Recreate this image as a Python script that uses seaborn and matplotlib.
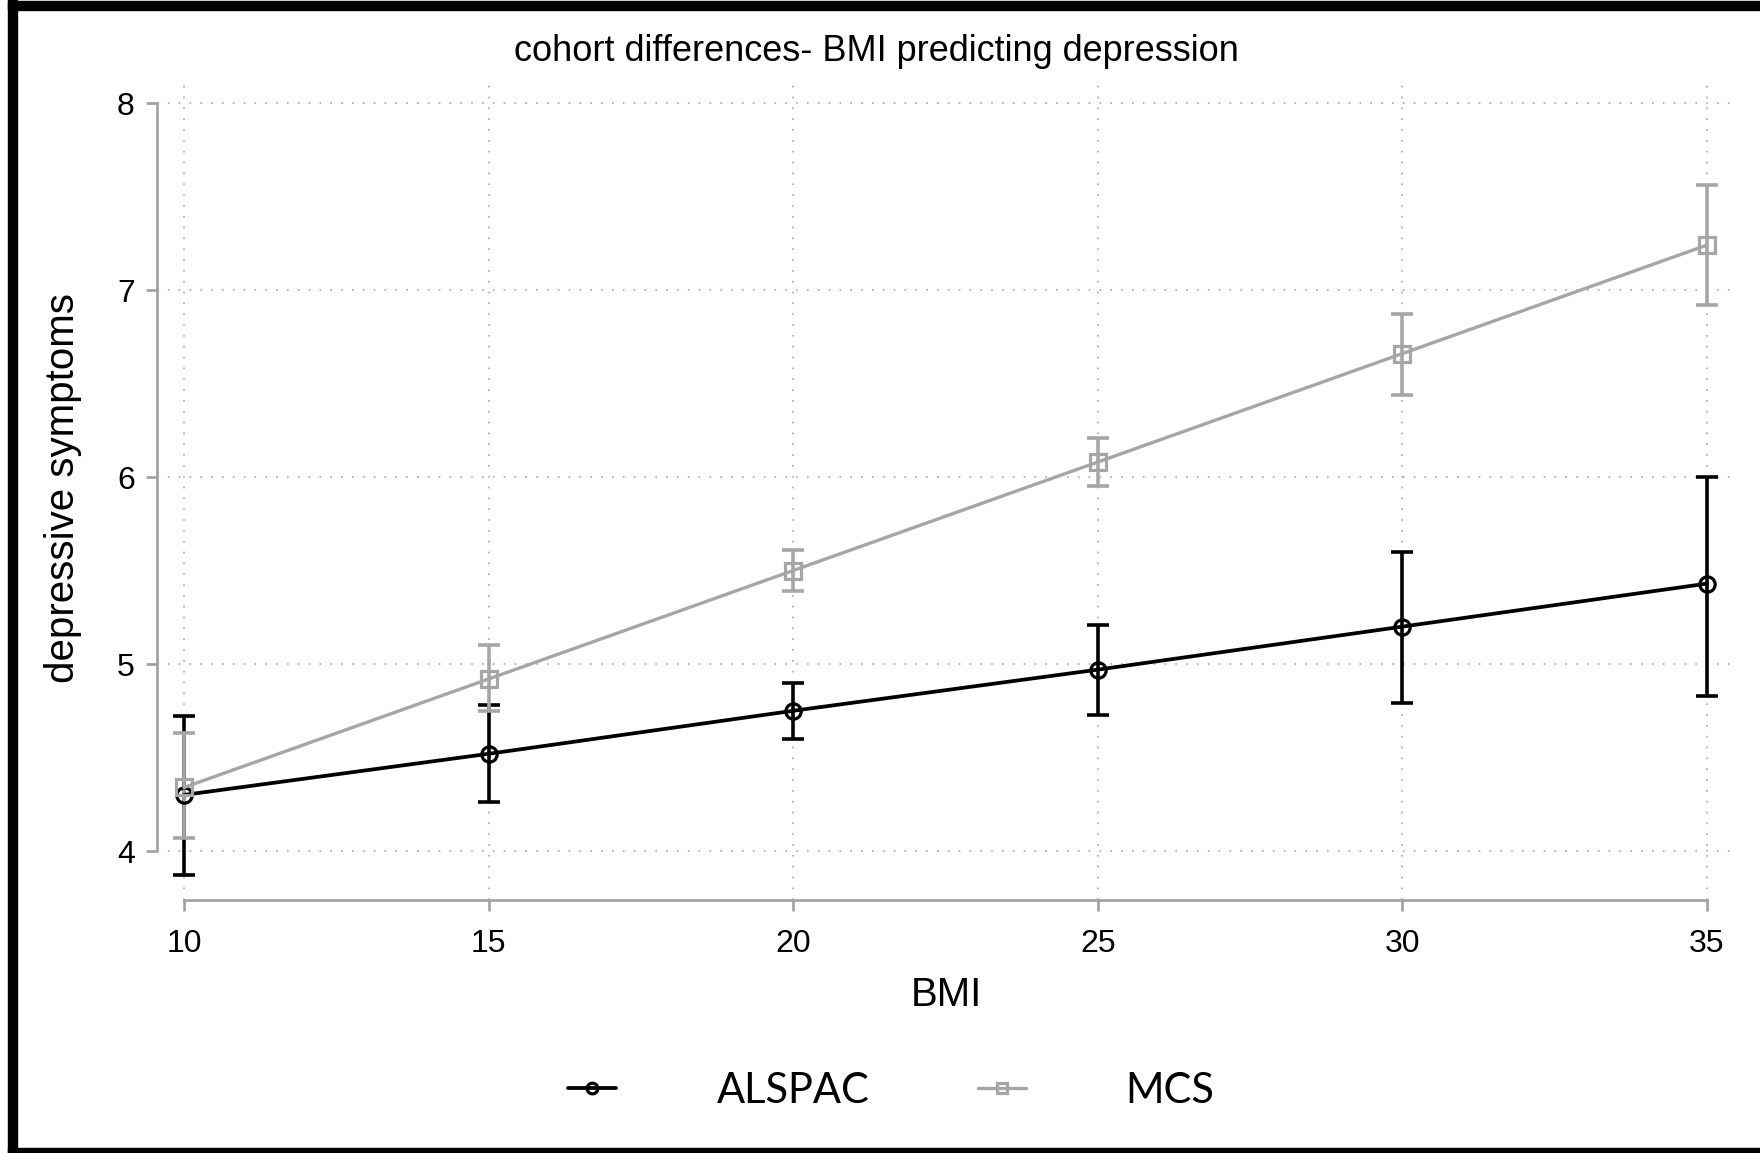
"""
plot.py - cohort differences: BMI predicting depressive symptoms (ALSPAC vs MCS).
"""

import matplotlib
matplotlib.use("Agg")
import matplotlib.pyplot as plt
import pandas as pd
import seaborn as sns

# ---------------------------------------------------------------- data
BMI = [10, 15, 20, 25, 30, 35]

ALSPAC_MEAN = [4.30, 4.52, 4.75, 4.97, 5.20, 5.43]
ALSPAC_LOW = [3.87, 4.26, 4.60, 4.73, 4.79, 4.83]
ALSPAC_HIGH = [4.72, 4.78, 4.90, 5.21, 5.60, 6.00]

MCS_MEAN = [4.34, 4.92, 5.50, 6.08, 6.66, 7.24]
MCS_LOW = [4.07, 4.75, 5.39, 5.95, 6.44, 6.92]
MCS_HIGH = [4.63, 5.10, 5.61, 6.21, 6.87, 7.56]

Y_TICKS = [4, 5, 6, 7, 8]

COHORTS = ["ALSPAC", "MCS"]
COLORS = {"ALSPAC": "#000000", "MCS": "#a6a6a6"}
MARKERS = {"ALSPAC": "o", "MCS": "s"}

sns.set_theme(style="white")
plt.rcParams["font.family"] = ["Liberation Sans", "DejaVu Sans"]
plt.rcParams["text.color"] = "black"

SPINE = "#a0a0a0"
GRID = "#a8a8a8"


def main():
    df = pd.concat([
        pd.DataFrame({"bmi": BMI, "mean": ALSPAC_MEAN, "lo": ALSPAC_LOW,
                      "hi": ALSPAC_HIGH, "cohort": "ALSPAC"}),
        pd.DataFrame({"bmi": BMI, "mean": MCS_MEAN, "lo": MCS_LOW,
                      "hi": MCS_HIGH, "cohort": "MCS"}),
    ], ignore_index=True)

    fig = plt.figure(figsize=(17.6, 11.53), dpi=100)
    ax = fig.add_axes([0.0892, 0.2194, 0.8955, 0.7086])

    # error bars first, lines on top
    for c in COHORTS:
        sub = df[df["cohort"] == c]
        ax.errorbar(sub["bmi"], sub["mean"],
                    yerr=[sub["mean"] - sub["lo"], sub["hi"] - sub["mean"]],
                    fmt="none", ecolor=COLORS[c], elinewidth=2.6,
                    capsize=8, capthick=2.6, zorder=3)

    for c in COHORTS:
        sub = df[df["cohort"] == c]
        sns.lineplot(data=sub, x="bmi", y="mean", ax=ax, label=c,
                     color=COLORS[c], linewidth=2.7 if c == "ALSPAC" else 2.4,
                     marker=MARKERS[c], markersize=11, markerfacecolor="none",
                     markeredgecolor=COLORS[c], markeredgewidth=2.3, zorder=4)

    ax.set_xlim(9.557, 35.43)
    ax.set_ylim(3.738, 8.107)
    ax.set_xticks(BMI)
    ax.set_yticks(Y_TICKS)
    ax.set_xlabel("")
    ax.set_ylabel("")

    for s in ["top", "right"]:
        ax.spines[s].set_visible(False)
    for s in ["left", "bottom"]:
        ax.spines[s].set_color(SPINE)
        ax.spines[s].set_linewidth(1.9)
    ax.spines["left"].set_bounds(4, 8)
    ax.spines["bottom"].set_bounds(10, 35)

    ax.tick_params(axis="both", which="major", direction="out", length=8,
                   width=1.9, color=SPINE, labelsize=23, labelcolor="black",
                   left=True, bottom=True)
    ax.tick_params(axis="y", pad=8)
    ax.tick_params(axis="x", pad=13)

    ax.grid(True, color=GRID, linewidth=1.2, linestyle=(0, (1, 5.5)))
    ax.set_axisbelow(True)

    fig.text(0.498, 0.955, "cohort differences- BMI predicting depression",
             ha="center", va="center", fontsize=26)
    fig.text(0.5375, 0.137, "BMI", ha="center", va="center", fontsize=29)
    fig.text(0.036, 0.577, "depressive symptoms", ha="center", va="center",
             rotation=90, fontsize=29)

    leg = ax.legend(loc="center", bbox_to_anchor=(0.5065, 0.054),
                    bbox_transform=fig.transFigure, ncol=2, frameon=False,
                    handlelength=1.15, handletextpad=2.4, columnspacing=2.6,
                    markerscale=0.7, prop={"family": "Lato", "size": 30})
    for t in leg.get_texts():
        t.set_color("black")

    # thick black frame around the slide image
    W, H = 1760, 1153
    frame = dict(color="black", transform=fig.transFigure, zorder=10)
    fig.patches.append(plt.Rectangle((8 / W, 0), 9 / W, 1, **frame))
    fig.patches.append(plt.Rectangle((8 / W, 1 - 10 / H), 1, 9 / H, **frame))
    fig.patches.append(plt.Rectangle((8 / W, 0), 1, 5 / H, **frame))

    fig.savefig("out.png", dpi=100)
    plt.close(fig)


if __name__ == "__main__":
    main()
